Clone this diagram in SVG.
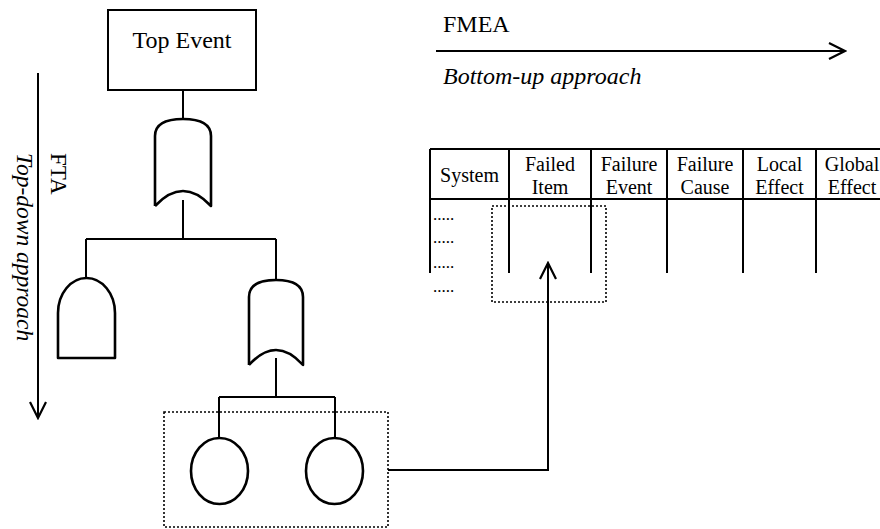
<svg xmlns="http://www.w3.org/2000/svg" width="880" height="529" viewBox="0 0 880 529">
  <defs>
    <style>
      .ln { fill: none; stroke: #000; stroke-width: 2; }
      .gate { fill: none; stroke: #000; stroke-width: 2.6; stroke-linejoin: round; }
      .dot { fill: none; stroke: #000; stroke-width: 1.6; stroke-dasharray: 2 2; }
      .t { font-family: "Liberation Serif", "Times New Roman", serif; fill: #000; }
      .it { font-style: italic; }
      .hd { font-size: 20px; text-anchor: middle; }
    </style>
    <marker id="chev" viewBox="0 0 20 20" refX="18" refY="10" markerWidth="20" markerHeight="20" markerUnits="userSpaceOnUse" orient="auto">
      <path d="M2,2 L18,10 L2,18" fill="none" stroke="#000" stroke-width="2.2"/>
    </marker>
  </defs>
  <rect width="880" height="529" fill="#fff"/>

  <!-- direction labels -->
  <g id="fmea-label">
    <text class="t" x="443" y="32" font-size="24">FMEA</text>
    <text class="t it" x="443" y="84" font-size="24">Bottom-up approach</text>
  </g>
  <g id="fta-label">
    <text class="t" transform="translate(51,153) rotate(90)" font-size="23">FTA</text>
    <text class="t it" transform="translate(17,153) rotate(90)" font-size="23.5">Top-down approach</text>
  </g>

  <!-- fault tree -->
  <g id="top-event">
    <rect x="108" y="10" width="148" height="80" class="ln"/>
    <text class="t" x="182" y="48" font-size="24" text-anchor="middle">Top Event</text>
  </g>
  <g id="or-gate-top">
    <path class="gate" d="M155,206 V136 Q155,119 183,119 Q211,119 211,136 V206 Q183,176 155,206"/>
  </g>
  <g id="and-gate">
    <path class="gate" d="M58,358 V313 A28.5,35 0 0 1 115,313 V358 Z"/>
  </g>
  <g id="or-gate-right">
    <path class="gate" d="M249,365 V297 Q249,280 276,280 Q303,280 303,297 V365 Q276,335 249,365"/>
  </g>
  <g id="basic-events">
    <ellipse cx="219.5" cy="471" rx="28.5" ry="33" class="gate"/>
    <ellipse cx="334.5" cy="471" rx="28.5" ry="33" class="gate"/>
    <rect x="164" y="412" width="224" height="115" class="dot"/>
  </g>

  <!-- FMEA worksheet -->
  <g id="fmea-table">
    <path class="ln" d="M430,149 H880 M430,199 H880"/>
    <path class="ln" d="M430,149 V273 M509,149 V273 M591,149 V273 M667,149 V273 M743,149 V273 M816,149 V273"/>
    <text class="t hd" x="469.5" y="182">System</text>
    <text class="t hd" x="550" y="171">Failed</text>
    <text class="t hd" x="550" y="194">Item</text>
    <text class="t hd" x="629" y="171">Failure</text>
    <text class="t hd" x="629" y="194">Event</text>
    <text class="t hd" x="705" y="171">Failure</text>
    <text class="t hd" x="705" y="194">Cause</text>
    <text class="t hd" x="779.5" y="171">Local</text>
    <text class="t hd" x="779.5" y="194">Effect</text>
    <text class="t hd" x="852" y="171">Global</text>
    <text class="t hd" x="852" y="194">Effect</text>
    <g class="t" font-size="17">
      <text x="433" y="220">.....</text>
      <text x="433" y="243">.....</text>
      <text x="433" y="268">.....</text>
      <text x="433" y="292">.....</text>
    </g>
    <rect x="492" y="206" width="114" height="96" class="dot"/>
  </g>

  <!-- connectors -->
  <g id="connectors">
    <path class="ln" d="M436,51 H845" marker-end="url(#chev)"/>
    <path class="ln" d="M38,73 V418" marker-end="url(#chev)"/>
    <path class="ln" d="M183,90 V119"/>
    <path class="ln" d="M183,200 V239 M86,239 H276 M86,239 V278 M276,239 V280"/>
    <path class="ln" d="M276,358 V397 M219,397 H335 M219,397 V438 M335,397 V438"/>
    <path class="ln" d="M388,470 H548 V263" marker-end="url(#chev)"/>
  </g>
</svg>
